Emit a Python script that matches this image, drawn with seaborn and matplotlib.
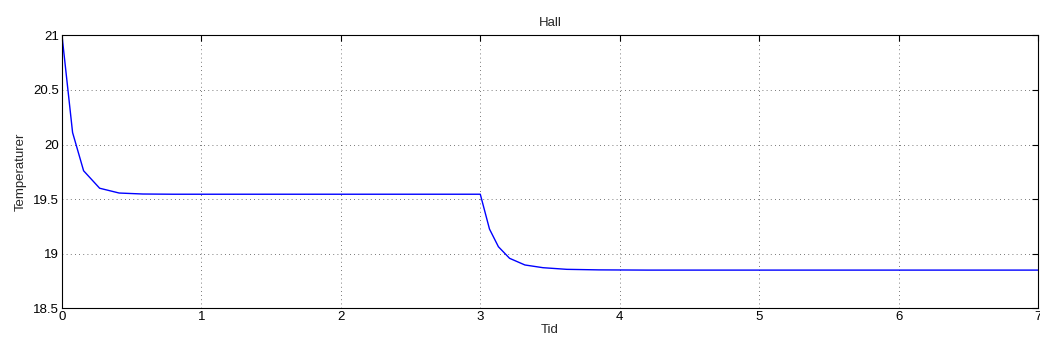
import seaborn as sns
import matplotlib
matplotlib.use("Agg")
import matplotlib.pyplot as plt
from matplotlib.ticker import FuncFormatter
import pandas as pd

# time (x) and temperature (y)
tid = [0.0, 0.076, 0.155, 0.27, 0.41, 0.58, 0.8, 1.1, 1.5, 2.0, 2.5, 3.0,
       3.066, 3.13, 3.21, 3.32, 3.45, 3.62, 3.85, 4.2, 4.7, 5.3, 6.0, 7.0]
temperatur = [21.0, 20.11, 19.76, 19.60, 19.556, 19.547, 19.545, 19.545,
              19.545, 19.545, 19.545, 19.545,
              19.226, 19.064, 18.958, 18.897, 18.872, 18.857, 18.852,
              18.85, 18.85, 18.85, 18.85, 18.85]
x_ticks = [0, 1, 2, 3, 4, 5, 6, 7]
y_ticks = [18.5, 19, 19.5, 20, 20.5, 21]

df = pd.DataFrame({"Tid": tid, "Temperaturer": temperatur})

sns.set_style("white")
plt.rcParams['font.family'] = ['Liberation Sans', 'DejaVu Sans']
plt.rcParams['font.size'] = 10

fig = plt.figure(figsize=(10.4, 3.47), dpi=100)
ax = fig.add_axes([0.0596, 0.1115, 0.9385, 0.7865])

sns.lineplot(data=df, x="Tid", y="Temperaturer", color="blue",
             linewidth=1.0, ax=ax)

ax.set_xlim(0, 7)
ax.set_ylim(18.5, 21)
ax.set_xticks(x_ticks)
ax.set_yticks(y_ticks)
ax.yaxis.set_major_formatter(FuncFormatter(lambda v, p: f"{v:g}"))
ax.grid(True, linestyle=(0, (1, 4)), color="black", linewidth=0.6, alpha=0.7)
ax.tick_params(direction="in", length=4, width=0.8, colors="black",
               labelsize=9.5, top=True, right=True, pad=2)
for s in ax.spines.values():
    s.set_color("black")
    s.set_linewidth(0.8)

ax.set_title("Hall", fontsize=9.5, pad=7)
ax.set_xlabel("Tid", fontsize=9.5, labelpad=1)
ax.set_ylabel("Temperaturer", fontsize=9.5, labelpad=5)

fig.savefig("out.png", dpi=100)
